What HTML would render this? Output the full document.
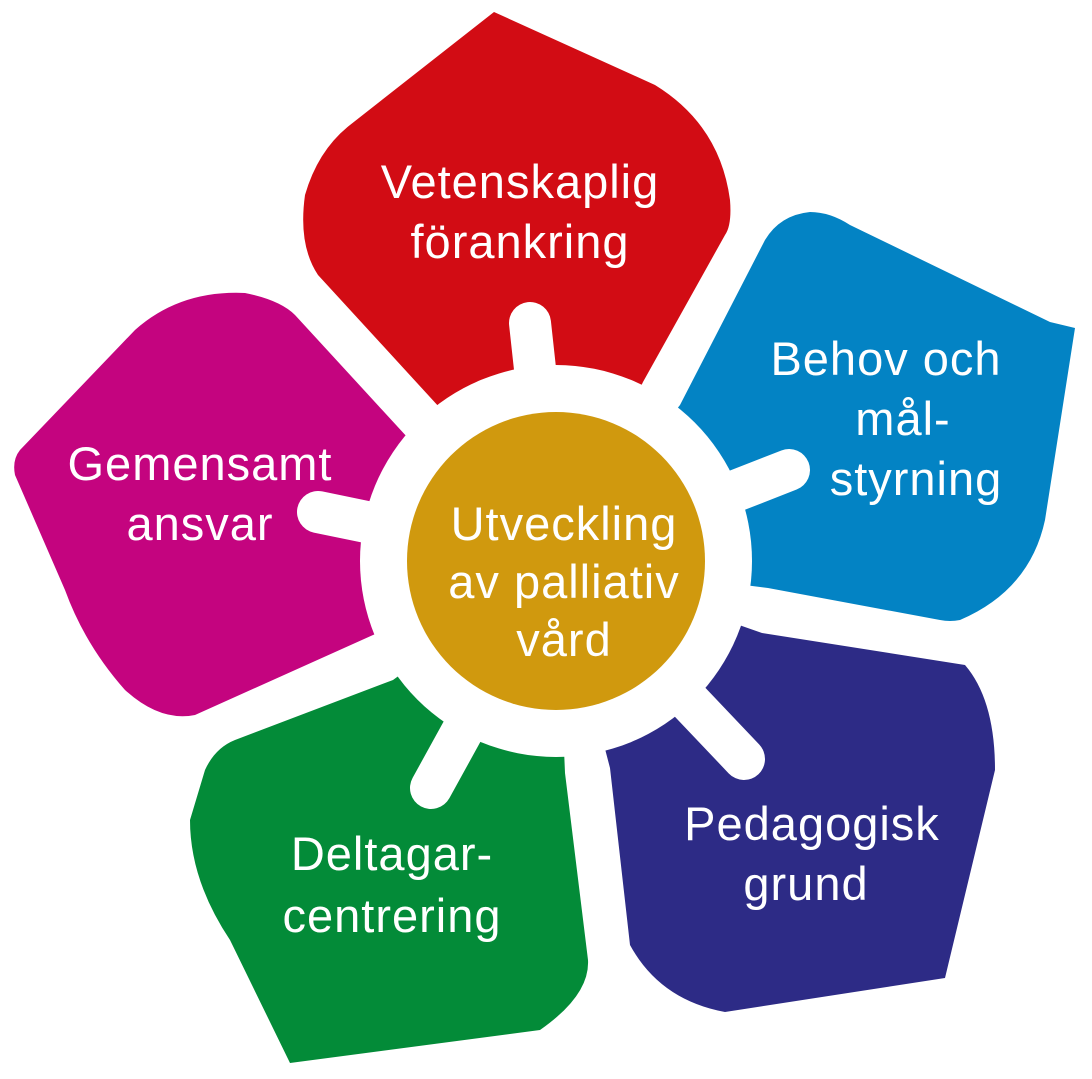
<!DOCTYPE html>
<html><head><meta charset="utf-8"><style>
html,body{margin:0;padding:0;background:#fff;}
svg{display:block}
text{font-family:"Liberation Sans",sans-serif;fill:#fff;font-size:47px;letter-spacing:1px;text-anchor:middle}
</style></head><body>
<svg width="1092" height="1079" viewBox="0 0 1092 1079">
<path fill="#d20c14" d="M556,561 L440,408 L318,275 Q298,245 305,195 Q318,150 350,125 L494,12 L655,85 Q720,125 730,200 Q732,225 725,235 L643,382 Z"/>
<path fill="#0383c4" d="M556,561 L680,405 L765,240 Q780,215 810,212 Q830,212 850,225 L1050,322 L1075,328 L1045,520 Q1030,590 960,620 Q950,622 940,620 L768,588 Z"/>
<path fill="#2d2b86" d="M556,561 L762,633 L965,665 Q995,700 995,770 L945,978 L725,1012 Q660,1000 630,945 L610,768 Z"/>
<path fill="#038b38" d="M556,561 L565,773 L588,960 Q590,995 540,1030 L290,1063 L230,940 Q190,880 190,820 L205,770 Q215,748 235,740 L393,680 Z"/>
<path fill="#c4047f" d="M556,561 L373,635 L195,715 Q160,722 125,690 Q85,645 65,590 L15,475 Q12,460 20,450 L135,330 Q180,290 245,293 Q280,300 295,315 L408,438 Z"/>
<circle cx="556" cy="561" r="196" fill="#fff"/>
<g stroke="#fff" stroke-width="42" stroke-linecap="round">
<line x1="556" y1="561" x2="530" y2="323"/>
<line x1="556" y1="561" x2="789" y2="470"/>
<line x1="556" y1="561" x2="744" y2="759"/>
<line x1="556" y1="561" x2="431" y2="788"/>
<line x1="556" y1="561" x2="318" y2="512"/>
</g>
<circle cx="556" cy="561" r="149" fill="#d0990e"/>
<text x="564" y="540">Utveckling</text>
<text x="564" y="598">av palliativ</text>
<text x="564" y="656">vård</text>
<text x="520" y="198">Vetenskaplig</text>
<text x="520" y="258">förankring</text>
<text x="886" y="375">Behov och</text>
<text x="903" y="435">mål-</text>
<text x="916" y="495">styrning</text>
<text x="812" y="840">Pedagogisk</text>
<text x="806" y="900">grund</text>
<text x="392" y="870">Deltagar-</text>
<text x="392" y="932">centrering</text>
<text x="200" y="480">Gemensamt</text>
<text x="200" y="540">ansvar</text>
</svg>
</body></html>
